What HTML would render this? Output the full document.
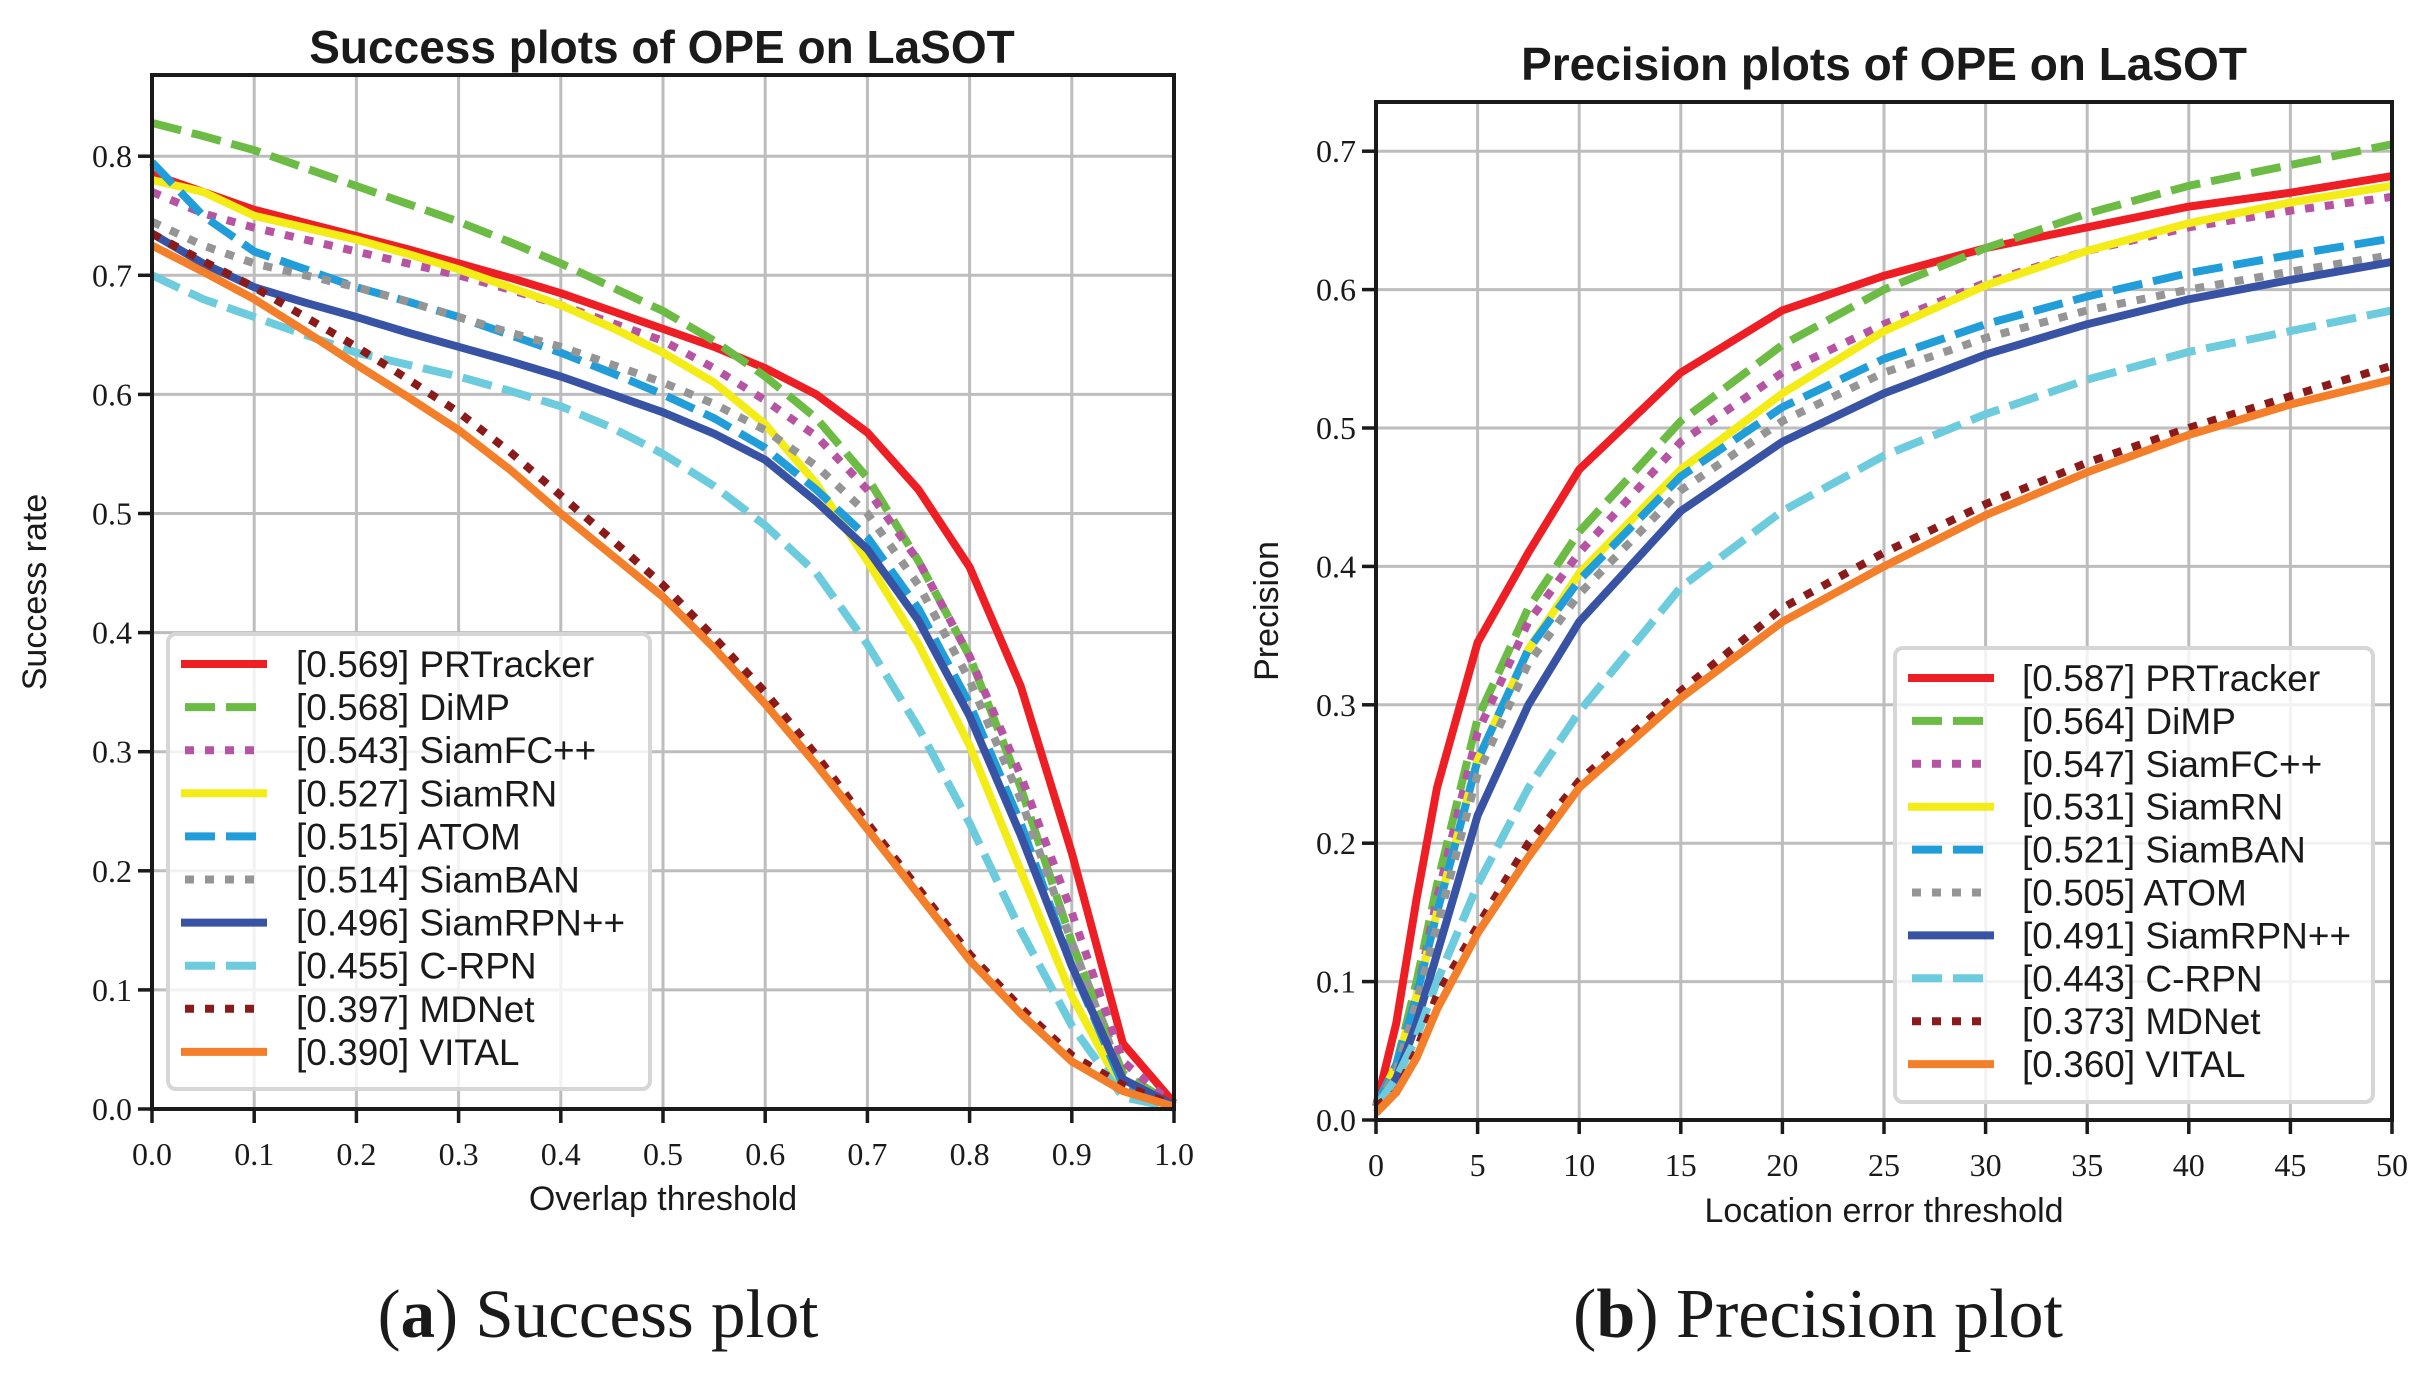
<!DOCTYPE html>
<html><head><meta charset="utf-8"><style>
html,body{margin:0;padding:0;background:#fff;}
svg{display:block;}
</style></head><body>
<svg id="fig" width="2429" height="1384" viewBox="0 0 2429 1384" xmlns="http://www.w3.org/2000/svg"></svg>
<script>
const succScores=["0.569","0.568","0.543","0.527","0.515","0.514","0.496","0.455","0.397","0.390"];
const succNames=["PRTracker","DiMP","SiamFC++","SiamRN","ATOM","SiamBAN","SiamRPN++","C-RPN","MDNet","VITAL"];
const precScores=["0.587","0.564","0.547","0.531","0.521","0.505","0.491","0.443","0.373","0.360"];
const precNames=["PRTracker","DiMP","SiamFC++","SiamRN","SiamBAN","ATOM","SiamRPN++","C-RPN","MDNet","VITAL"];
const succX=[0,0.05,0.1,0.15,0.2,0.25,0.3,0.35,0.4,0.45,0.5,0.55,0.6,0.65,0.7,0.75,0.8,0.85,0.9,0.95,1.0];
const succPR=[0.785,0.77,0.755,0.744,0.733,0.722,0.71,0.698,0.685,0.67,0.655,0.64,0.622,0.6,0.568,0.52,0.455,0.355,0.215,0.055,0.005];
const succDiMP=[0.828,0.817,0.805,0.79,0.775,0.76,0.745,0.728,0.71,0.69,0.67,0.645,0.615,0.58,0.53,0.46,0.38,0.27,0.14,0.03,0.003];
const succFC=[0.77,0.752,0.74,0.73,0.72,0.71,0.70,0.688,0.675,0.66,0.645,0.622,0.595,0.565,0.52,0.46,0.38,0.28,0.165,0.04,0.003];
const succRN=[0.78,0.77,0.75,0.74,0.73,0.718,0.705,0.69,0.675,0.656,0.635,0.61,0.575,0.525,0.46,0.39,0.305,0.2,0.095,0.015,0.002];
const succATOM=[0.795,0.75,0.72,0.705,0.69,0.678,0.665,0.65,0.635,0.618,0.6,0.58,0.555,0.52,0.48,0.42,0.34,0.24,0.12,0.02,0.002];
const succBAN=[0.745,0.725,0.71,0.7,0.69,0.678,0.665,0.652,0.64,0.625,0.61,0.592,0.57,0.54,0.5,0.44,0.36,0.26,0.14,0.025,0.002];
const succRPN=[0.735,0.71,0.69,0.677,0.665,0.652,0.64,0.628,0.615,0.6,0.585,0.567,0.545,0.51,0.47,0.41,0.33,0.23,0.12,0.025,0.003];
const succCRPN=[0.70,0.68,0.665,0.65,0.635,0.625,0.615,0.603,0.59,0.572,0.55,0.523,0.49,0.45,0.39,0.32,0.24,0.15,0.07,0.01,0.001];
const succMD=[0.735,0.712,0.69,0.665,0.64,0.613,0.585,0.552,0.515,0.478,0.44,0.396,0.35,0.297,0.24,0.185,0.13,0.085,0.045,0.02,0.003];
const succVITAL=[0.725,0.703,0.68,0.653,0.625,0.598,0.57,0.537,0.5,0.465,0.43,0.387,0.34,0.289,0.235,0.18,0.125,0.08,0.04,0.015,0.002];
const precX=[0,1,2,3,5,7.5,10,15,20,25,30,35,40,45,50];
const precPR=[0.01,0.07,0.16,0.24,0.345,0.41,0.47,0.54,0.585,0.61,0.63,0.645,0.66,0.67,0.682];
const precDiMP=[0.01,0.04,0.10,0.17,0.29,0.37,0.425,0.505,0.56,0.60,0.63,0.655,0.675,0.69,0.705];
const precFC=[0.01,0.04,0.09,0.16,0.28,0.36,0.41,0.49,0.54,0.575,0.605,0.628,0.645,0.657,0.667];
const precRN=[0.01,0.04,0.09,0.15,0.26,0.34,0.395,0.47,0.525,0.57,0.603,0.628,0.648,0.663,0.675];
const precBAN=[0.01,0.04,0.09,0.15,0.26,0.34,0.39,0.465,0.515,0.55,0.575,0.595,0.612,0.625,0.637];
const precATOM=[0.01,0.035,0.085,0.14,0.25,0.33,0.38,0.455,0.505,0.54,0.565,0.585,0.60,0.613,0.625];
const precRPN=[0.01,0.03,0.07,0.12,0.22,0.30,0.36,0.44,0.49,0.525,0.553,0.575,0.593,0.607,0.62];
const precCRPN=[0.01,0.03,0.06,0.10,0.17,0.24,0.295,0.385,0.44,0.48,0.51,0.535,0.555,0.57,0.585];
const precMD=[0.01,0.02,0.05,0.09,0.14,0.20,0.245,0.31,0.37,0.41,0.445,0.475,0.50,0.523,0.545];
const precVITAL=[0.005,0.02,0.045,0.08,0.135,0.19,0.24,0.305,0.36,0.40,0.437,0.468,0.495,0.517,0.535];
const succTicksX=["0.0","0.1","0.2","0.3","0.4","0.5","0.6","0.7","0.8","0.9","1.0"];
const succTicksY=["0.0","0.1","0.2","0.3","0.4","0.5","0.6","0.7","0.8"];
const precTicksX=["0","5","10","15","20","25","30","35","40","45","50"];
const precTicksY=["0.0","0.1","0.2","0.3","0.4","0.5","0.6","0.7"];

const colors=["#ee1f24","#6bbb44","#b753a3","#f4ec17","#219ed9","#959595","#3853a4","#6ccbdc","#8b1a1a","#f47f2b"];
const dashes=["","30,11","9,11","","30,11","9,11","","30,11","9,11",""];
const NS="http://www.w3.org/2000/svg";
const svg=document.getElementById('fig');
function mk(tag,attrs,parent){const e=document.createElementNS(NS,tag);for(const k in attrs)e.setAttribute(k,attrs[k]);(parent||svg).appendChild(e);return e;}

function panel(cfg){
  const g=mk('g',{});
  
  
  const sx=v=>cfg.x0+(v-cfg.xmin)/(cfg.xmax-cfg.xmin)*(cfg.x1-cfg.x0);
  const sy=v=>cfg.yz-v*cfg.yscale;
  cfg.tx.forEach(t=>{const v=parseFloat(t);const gl=mk('line',{x1:sx(v),x2:sx(v),y1:cfg.top,y2:cfg.yz,stroke:'#bdbdbd','stroke-width':3},g);
    });
  cfg.ty.forEach(t=>{const v=parseFloat(t);const gl=mk('line',{x1:cfg.x0,x2:cfg.x1,y1:sy(v),y2:sy(v),stroke:'#bdbdbd','stroke-width':3},g);
    });
  cfg.series.forEach((s,i)=>{
    const pts=cfg.xs.map((x,j)=>sx(x).toFixed(1)+','+sy(s[j]).toFixed(1)).join(' ');
    const pl=mk('polyline',{points:pts,fill:'none',stroke:colors[i],'stroke-width':8,'stroke-linejoin':'round','stroke-linecap':'butt'},g);
    if(dashes[i])pl.setAttribute('stroke-dasharray',dashes[i]);
    
    
  });
  const fr=mk('rect',{x:cfg.x0,y:cfg.top,width:cfg.x1-cfg.x0,height:cfg.yz-cfg.top,fill:'none',stroke:'#1a1a1a','stroke-width':4},g);
  
  cfg.tx.forEach(t=>{const v=parseFloat(t);
    mk('line',{x1:sx(v),x2:sx(v),y1:cfg.yz,y2:cfg.yz+14,stroke:'#1a1a1a','stroke-width':3.5},g);
    const tl=mk('text',{x:sx(v),y:cfg.yz+56,'text-anchor':'middle','font-family':'"Liberation Serif",serif','font-size':32,fill:'#1a1a1a'},g);
    tl.textContent=t;});
  cfg.ty.forEach(t=>{const v=parseFloat(t);
    mk('line',{x1:cfg.x0-14,x2:cfg.x0,y1:sy(v),y2:sy(v),stroke:'#1a1a1a','stroke-width':3.5},g);
    const tl=mk('text',{x:cfg.x0-20,y:sy(v)+11,'text-anchor':'end','font-family':'"Liberation Serif",serif','font-size':32,fill:'#1a1a1a'},g);
    tl.textContent=t;});
  const ti=mk('text',{x:cfg.titleX,y:cfg.titleY,'text-anchor':'middle','font-family':'"Liberation Sans",sans-serif','font-size':46,'font-weight':'bold',fill:'#1a1a1a'},g);
  ti.textContent=cfg.title;
  const xl=mk('text',{x:(cfg.x0+cfg.x1)/2,y:cfg.xlabY,'text-anchor':'middle','font-family':'"Liberation Sans",sans-serif','font-size':34,fill:'#1a1a1a'},g);
  xl.textContent=cfg.xlab;
  const yl=mk('text',{x:0,y:0,'text-anchor':'middle','font-family':'"Liberation Sans",sans-serif','font-size':34,fill:'#1a1a1a',transform:`translate(${cfg.ylabX},${(cfg.top+cfg.yz)/2}) rotate(-90)`},g);
  yl.textContent=cfg.ylab;
  const L=cfg.leg;
  const lg=mk('g',{},g);
  mk('rect',{x:L.x,y:L.y,width:L.w,height:L.h,rx:8,fill:'rgba(255,255,255,0.8)',stroke:'#d6d6d6','stroke-width':4},lg);
  cfg.names.forEach((n,i)=>{
    const yy=L.row0+i*L.dy;
    const e=mk('g',{},lg);
    const ln=mk('line',{x1:L.hx,x2:L.hx+86,y1:yy,y2:yy,stroke:colors[i],'stroke-width':8},e);
    if(dashes[i]){ln.setAttribute('stroke-dasharray',dashes[i]);ln.setAttribute('x1',L.hx+4);ln.setAttribute('x2',L.hx+82);}
    const tx=mk('text',{x:L.tx,y:yy+13,'font-family':'"Liberation Sans",sans-serif','font-size':37,fill:'#1a1a1a'},e);
    tx.textContent='['+cfg.scores[i]+'] '+n;
  });
}
panel({id:'success',x0:152,x1:1174,xmin:0,xmax:1,yz:1109,yscale:1191,top:75,
  xs:succX,series:[succPR,succDiMP,succFC,succRN,succATOM,succBAN,succRPN,succCRPN,succMD,succVITAL],
  names:succNames,scores:succScores,tx:succTicksX,ty:succTicksY,
  title:'Success plots of OPE on LaSOT',titleX:662,titleY:63,xlab:'Overlap threshold',xlabY:1210,ylab:'Success rate',ylabX:46,
  leg:{x:168,y:634,w:482,h:455,row0:664,dy:43.1,hx:181,tx:296}});
panel({id:'precision',x0:1376,x1:2392,xmin:0,xmax:50,yz:1120,yscale:1384,top:102,
  xs:precX,series:[precPR,precDiMP,precFC,precRN,precBAN,precATOM,precRPN,precCRPN,precMD,precVITAL],
  names:precNames,scores:precScores,tx:precTicksX,ty:precTicksY,
  title:'Precision plots of OPE on LaSOT',titleX:1884,titleY:80,xlab:'Location error threshold',xlabY:1222,ylab:'Precision',ylabX:1278,
  leg:{x:1895,y:648,w:478,h:454,row0:678,dy:42.9,hx:1908,tx:2022}});
const c1=mk('text',{x:598,y:1337,'text-anchor':'middle','font-family':'"Liberation Serif",serif','font-size':69,fill:'#1a1a1a'});
c1.innerHTML='(<tspan font-weight="bold">a</tspan>) Success plot';

const c2=mk('text',{x:1818,y:1337,'text-anchor':'middle','font-family':'"Liberation Serif",serif','font-size':70,fill:'#1a1a1a'});
c2.innerHTML='(<tspan font-weight="bold">b</tspan>) Precision plot';

</script>
</body></html>
